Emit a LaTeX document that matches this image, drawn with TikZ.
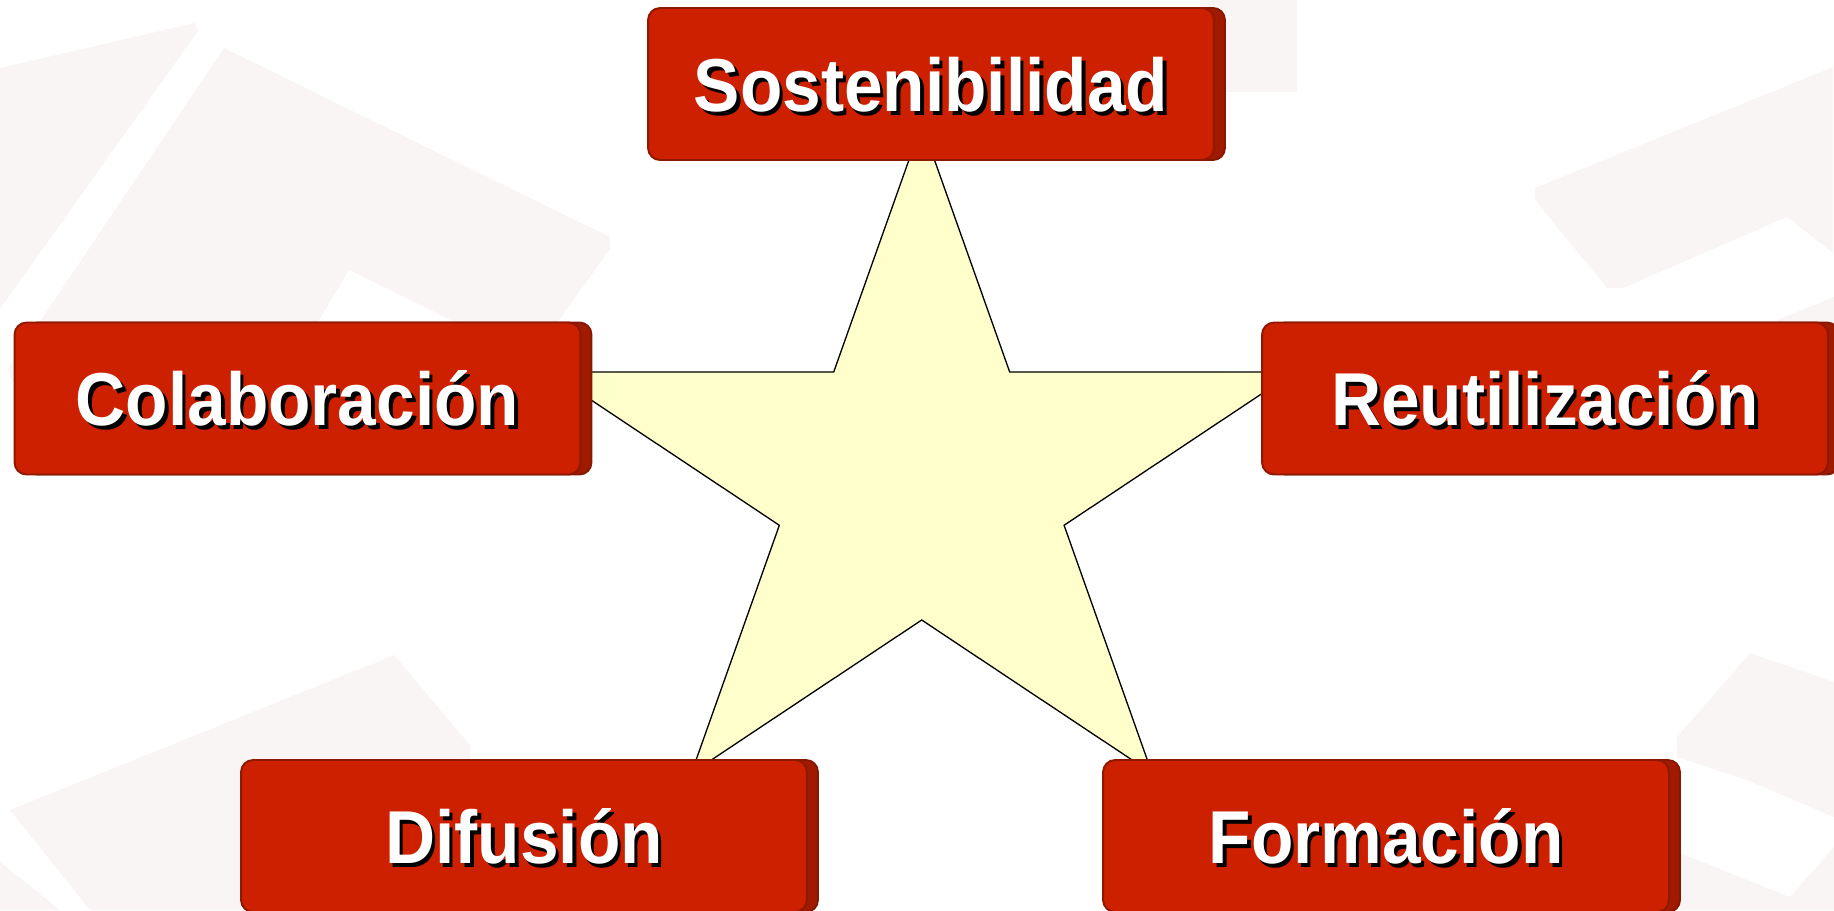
\documentclass[tikz,border=0pt]{standalone}
\usepackage{fontspec}
\setmainfont{Liberation Sans}
\usetikzlibrary{shadows}
\definecolor{boxred}{HTML}{CC2000}
\definecolor{boxedge}{HTML}{8E1800}
\definecolor{boxside}{HTML}{A01A00}
\definecolor{starfill}{HTML}{FFFFCC}
\definecolor{bgshape}{HTML}{F8F5F4}
\newcommand{\shadowtext}[1]{\scalebox{1}[1.08]{\makebox[0pt][l]{\hspace{2pt}\raisebox{-2pt}{\color{black}#1}}\color{white}#1}}

\begin{document}
\begin{tikzpicture}[x=0.02cm, y=-0.02cm,
  box/.style={rounded corners=0.24cm, fill=boxred, draw=boxedge, line width=1.1pt,
    minimum width=11.32cm, minimum height=3.04cm, inner sep=0pt,
    text height=31pt, text depth=0pt,
    font=\bfseries\fontsize{39.5}{41}\selectfont,
    copy shadow={shadow xshift=0.22cm, shadow yshift=0cm, fill=boxside, draw=boxside!85!black}},
  starline/.style={fill=starfill, draw=black, line width=0.75pt, line join=miter},
  bg/.style={fill=bgshape, draw=none}]
\useasboundingbox (0,0) rectangle (1834,910);
% faint backdrop
\fill[bg] (0,68) -- (195,23) -- (198,31) -- (0,309) -- cycle;
\fill[bg] (224,48) -- (610,237) -- (610,249) -- (531,359) -- (349,270) -- (297,357)
  -- (369,398) -- (12,382) -- (8,369) -- cycle;
\fill[bg] (1200,0) rectangle (1297,92);
\fill[bg] (1535,188) -- (1833,67) -- (1833,253) -- (1787,217) -- (1623,288) -- (1607,288) -- (1535,200) -- cycle;
\fill[bg] (1777,320) -- (1834,297) -- (1834,330) -- (1777,330) -- cycle;
\fill[bg] (1750,653) -- (1834,682) -- (1834,817) -- (1747,780) -- (1677,757) -- (1677,737) -- cycle;
\fill[bg] (1680,853) -- (1790,897) -- (1834,847) -- (1834,910) -- (1680,910) -- cycle;
\fill[bg] (10,810) -- (300,693) -- (394,655) -- (470,745) -- (470,790) -- (241,790) -- (241,910)
  -- (90,910) -- cycle;
\fill[bg] (0,862) -- (60,910) -- (0,910) -- cycle;
% star
\draw[starline, shift={(921.7,482.9)}] (270:391.9 and 358.9)
  \foreach \k in {0,...,4}{ -- ({306+72*\k}:149.7 and 137.1) -- ({342+72*\k}:391.9 and 358.9)} -- cycle;
% boxes
\node[box] (sos) at (931,84) {\shadowtext{Sostenibilidad}};
\node[box] (col) at (297.5,398.5) {\shadowtext{Colaboración}};
\node[box] (reu) at (1545,398.5) {\shadowtext{Reutilización}};
\node[box] (dif) at (524,836) {\shadowtext{Difusión}};
\node[box] (for) at (1386,836) {\shadowtext{Formación}};
\end{tikzpicture}
\end{document}
